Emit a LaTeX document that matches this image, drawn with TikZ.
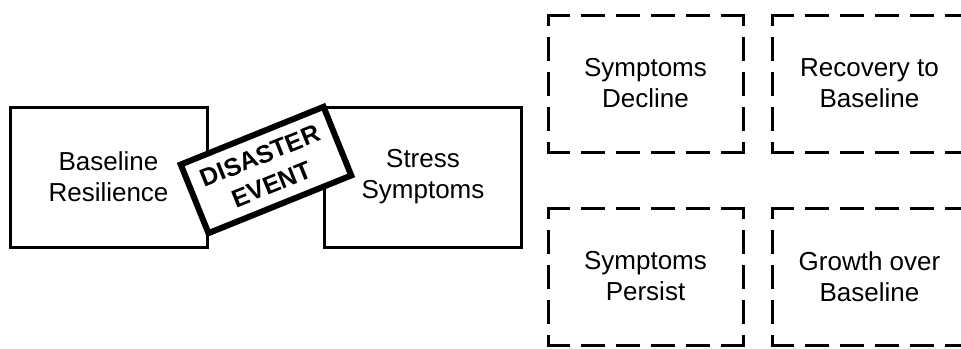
\documentclass[tikz,border=0pt]{standalone}
\usepackage{fontspec}
\setmainfont{Liberation Sans}
\usetikzlibrary{positioning}
\tikzset{every node/.append style={align=center}}
\tikzset{
  boxtext/.style={font=\fontsize{26}{31}\selectfont},
  statebox/.style={boxtext, draw=black, line width=3pt, fill=white,
    minimum width=197pt, minimum height=140pt},
  outcomebox/.style={boxtext, outer sep=0pt,
    minimum width=195pt, minimum height=137pt},
  hside/.style={line width=3pt, line cap=rect, dash pattern=on 21pt off 14pt, dash phase=0.5pt},
  vside/.style={line width=3pt, line cap=rect, dash pattern=on 21pt off 14pt, dash phase=12pt},
  eventbox/.style={draw=black, line width=6pt, fill=white, rotate=22,
    minimum width=154pt, minimum height=74pt,
    font=\fontsize{25}{31}\selectfont\bfseries}
}

\begin{document}
\begin{tikzpicture}[x=1pt,y=1pt]
  \useasboundingbox (0,0) rectangle (961,-348);

  % before and after the event
  \node[statebox] (baseline) at (108.5,-177) {Baseline\\Resilience};
  \node[statebox] (stress) at (423,-177) {Stress\\Symptoms};
  \node[eventbox] (event) at (266,-170) {DISASTER\\EVENT};

  % possible outcomes
  \node[outcomebox] (decline) at (645.5,-83.5) {Symptoms\\Decline};
  \node[outcomebox] (recovery) at (869.5,-83.5) {Recovery to\\Baseline};
  \node[outcomebox] (persist) at (645.5,-276.5) {Symptoms\\Persist};
  \node[outcomebox] (growth) at (869.5,-276.5) {Growth over\\Baseline};
  \foreach \n in {decline,recovery,persist,growth}{
    \draw[hside] (\n.north west) -- (\n.north east);
    \draw[hside] (\n.south west) -- (\n.south east);
    \draw[vside] (\n.north west) -- (\n.south west);
    \draw[vside] (\n.north east) -- (\n.south east);
  }
\end{tikzpicture}
\end{document}
